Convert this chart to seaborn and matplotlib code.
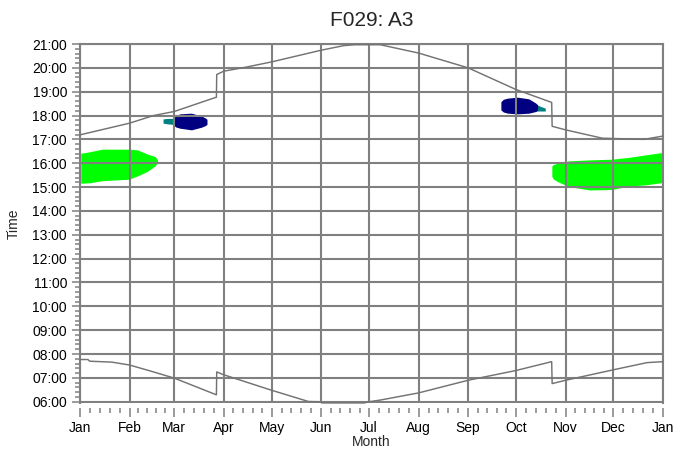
import matplotlib
matplotlib.use("Agg")
import matplotlib.pyplot as plt
from matplotlib.ticker import FixedLocator, MultipleLocator
import numpy as np
import pandas as pd
import seaborn as sns

# --- data (day of year from Jan 1, time in decimal hours) ---
month_labels = ["Jan", "Feb", "Mar", "Apr", "May", "Jun", "Jul",
                "Aug", "Sep", "Oct", "Nov", "Dec", "Jan"]
month_starts = [0, 31, 59, 90, 120, 151, 181, 212, 243, 273, 304, 334, 365]
hour_ticks = list(range(6, 22))

sunrise_day = [0, 5, 6, 20, 31, 45, 59, 85.4, 85.6, 90, 120, 143, 150, 151.5,
               178, 181, 188, 212, 243, 273, 295.3, 295.6, 304, 334, 355, 365]
sunrise_hr = [7.77, 7.77, 7.70, 7.66, 7.54, 7.27, 6.99, 6.29, 7.25, 7.13,
              6.48, 6.01, 6.00, 5.95, 5.95, 6.00, 6.07, 6.37, 6.90, 7.31,
              7.68, 6.76, 6.90, 7.34, 7.64, 7.68]

sunset_day = [0, 31, 46, 59, 85.4, 85.6, 90, 104, 120, 151, 165, 172, 188,
              212, 228, 243, 273, 295.3, 295.6, 304, 327, 353, 365]
sunset_hr = [17.19, 17.68, 18.00, 18.17, 18.77, 19.72, 19.86, 20.03, 20.25,
             20.74, 20.93, 20.97, 20.97, 20.62, 20.30, 20.00, 19.09, 18.55,
             17.55, 17.40, 17.05, 17.00, 17.14]

# glare periods: lower / upper time bound per day
green_a_day = [0.5, 6, 14, 30.6, 36, 42, 47, 48.5]
green_a_lo = [15.16, 15.18, 15.27, 15.33, 15.47, 15.65, 15.89, 16.02]
green_a_hi = [16.42, 16.48, 16.59, 16.59, 16.56, 16.39, 16.28, 16.15]

green_b_day = [295.4, 296.5, 299, 306, 319, 333, 344, 354, 364.5]
green_b_lo = [15.45, 15.33, 15.23, 15.02, 14.88, 14.90, 15.05, 15.09, 15.19]
green_b_hi = [15.89, 15.95, 16.00, 16.10, 16.14, 16.17, 16.25, 16.35, 16.45]

teal_a_day = [52, 55, 60]
teal_a_lo = [17.68, 17.65, 17.62]
teal_a_hi = [17.86, 17.88, 17.88]
navy_a_day = [58.3, 60, 62.5, 69.8, 76, 78.5, 79.5]
navy_a_lo = [17.61, 17.52, 17.47, 17.40, 17.51, 17.58, 17.63]
navy_a_hi = [17.89, 17.99, 18.07, 18.10, 17.98, 17.90, 17.84]

teal_b_day = [284.4, 287, 291.3]
teal_b_lo = [18.18, 18.19, 18.19]
teal_b_hi = [18.50, 18.42, 18.31]
navy_b_day = [263.5, 265, 267.7, 274, 281, 285.4, 286.5]
navy_b_lo = [18.24, 18.15, 18.10, 18.07, 18.10, 18.17, 18.25]
navy_b_hi = [18.58, 18.68, 18.73, 18.77, 18.70, 18.52, 18.45]

# --- style ---
sns.set_theme(style="white")
plt.rcParams["font.family"] = ["Liberation Sans", "DejaVu Sans"]
GRID = "#808080"

fig = plt.figure(figsize=(6.75, 4.55), dpi=100)
ax = fig.add_axes([80 / 675, 1 - 403.4 / 455, (663 - 80) / 675, (403.4 - 44) / 455])

# glare regions
ax.fill_between(green_a_day, green_a_lo, green_a_hi, color="#00ff00", lw=0, zorder=1)
ax.fill_between(green_b_day, green_b_lo, green_b_hi, color="#00ff00", lw=0, zorder=1)
ax.fill_between(teal_a_day, teal_a_lo, teal_a_hi, color="#008080", lw=0, zorder=1)
ax.fill_between(navy_a_day, navy_a_lo, navy_a_hi, color="#000080", lw=0, zorder=1.1)
ax.fill_between(teal_b_day, teal_b_lo, teal_b_hi, color="#008080", lw=0, zorder=1)
ax.fill_between(navy_b_day, navy_b_lo, navy_b_hi, color="#000080", lw=0, zorder=1.1)

# sunrise / sunset curves
rise = pd.DataFrame({"day": sunrise_day, "hour": sunrise_hr})
sets = pd.DataFrame({"day": sunset_day, "hour": sunset_hr})
for df in (rise, sets):
    sns.lineplot(data=df, x="day", y="hour", ax=ax, color="#737373",
                 linewidth=1.05, estimator=None, sort=False, zorder=3)
for ln in ax.lines:
    ln.set_clip_on(False)

ax.set_xlim(0, 365)
ax.set_ylim(5.93, 21)

# grid and frame
ax.set_axisbelow(False)
ax.grid(True, which="major", color=GRID, linewidth=1.5, zorder=2.5)
for side in ("left", "right", "top"):
    ax.spines[side].set_color(GRID)
    ax.spines[side].set_linewidth(1.5)
ax.spines["bottom"].set_visible(False)
ax.spines["bottom"].set_position(("outward", 3))

# ticks
ax.xaxis.set_major_locator(FixedLocator(month_starts))
ax.set_xticklabels(month_labels)
minor_x = []
for a, b in zip(month_starts[:-1], month_starts[1:]):
    minor_x += [a + k * (b - a) / 5 for k in range(1, 5)]
ax.xaxis.set_minor_locator(FixedLocator(minor_x))
ax.yaxis.set_major_locator(FixedLocator(hour_ticks))
ax.set_yticklabels([f"{h:02d}:00" for h in hour_ticks])
ax.yaxis.set_minor_locator(MultipleLocator(0.2))

ax.tick_params(which="both", color=GRID, width=1.1, labelsize=10,
               labelcolor="black", bottom=True, left=True)
ax.tick_params(which="major", length=6.5, pad=3)
ax.tick_params(which="minor", length=3.6)
ax.tick_params(axis="y", which="major", length=5.8, pad=3.5)

ax.set_xlabel("Month", fontsize=10, labelpad=0)
ax.set_ylabel("Time", fontsize=10, labelpad=8)
ax.set_title("F029: A3", fontsize=15, pad=13)

fig.savefig("out.png", dpi=100)
